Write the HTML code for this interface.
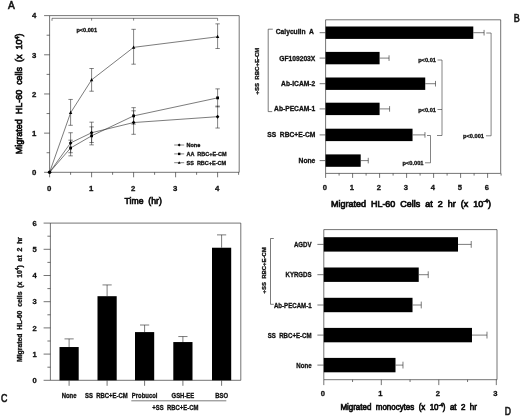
<!DOCTYPE html>
<html><head><meta charset="utf-8"><title>Figure</title>
<style>html,body{margin:0;padding:0;background:#fff;}svg{display:block;filter:blur(0.25px);font-family:"Liberation Sans",sans-serif;}</style>
</head><body>
<svg width="520" height="416" viewBox="0 0 520 416">
<rect x="0" y="0" width="520" height="416" fill="#fff"/>
<g id="panelA">
<polyline points="49.60,15.62 239.20,15.62 239.20,172.30 49.60,172.30 49.60,15.62" fill="none" stroke="#2a2a2a" stroke-width="0.65"/>
<line x1="44.10" y1="172.30" x2="49.60" y2="172.30" stroke="#2a2a2a" stroke-width="0.65"/>
<text x="34.20" y="175.10" font-size="7.8" font-weight="bold" text-anchor="middle" fill="#111" style="white-space:pre" stroke="#111" stroke-width="0.3">0</text>
<line x1="46.60" y1="152.72" x2="49.60" y2="152.72" stroke="#2a2a2a" stroke-width="0.65"/>
<line x1="44.10" y1="133.13" x2="49.60" y2="133.13" stroke="#2a2a2a" stroke-width="0.65"/>
<text x="34.20" y="135.93" font-size="7.8" font-weight="bold" text-anchor="middle" fill="#111" style="white-space:pre" stroke="#111" stroke-width="0.3">1</text>
<line x1="46.60" y1="113.55" x2="49.60" y2="113.55" stroke="#2a2a2a" stroke-width="0.65"/>
<line x1="44.10" y1="93.96" x2="49.60" y2="93.96" stroke="#2a2a2a" stroke-width="0.65"/>
<text x="34.20" y="96.76" font-size="7.8" font-weight="bold" text-anchor="middle" fill="#111" style="white-space:pre" stroke="#111" stroke-width="0.3">2</text>
<line x1="46.60" y1="74.38" x2="49.60" y2="74.38" stroke="#2a2a2a" stroke-width="0.65"/>
<line x1="44.10" y1="54.79" x2="49.60" y2="54.79" stroke="#2a2a2a" stroke-width="0.65"/>
<text x="34.20" y="57.59" font-size="7.8" font-weight="bold" text-anchor="middle" fill="#111" style="white-space:pre" stroke="#111" stroke-width="0.3">3</text>
<line x1="46.60" y1="35.21" x2="49.60" y2="35.21" stroke="#2a2a2a" stroke-width="0.65"/>
<line x1="44.10" y1="15.62" x2="49.60" y2="15.62" stroke="#2a2a2a" stroke-width="0.65"/>
<text x="34.20" y="18.42" font-size="7.8" font-weight="bold" text-anchor="middle" fill="#111" style="white-space:pre" stroke="#111" stroke-width="0.3">4</text>
<line x1="49.60" y1="172.30" x2="49.60" y2="177.30" stroke="#2a2a2a" stroke-width="0.65"/>
<text x="49.20" y="190.50" font-size="7.8" font-weight="bold" text-anchor="middle" fill="#111" style="white-space:pre" stroke="#111" stroke-width="0.3">0</text>
<line x1="70.60" y1="172.30" x2="70.60" y2="174.80" stroke="#2a2a2a" stroke-width="0.65"/>
<line x1="91.60" y1="172.30" x2="91.60" y2="177.30" stroke="#2a2a2a" stroke-width="0.65"/>
<text x="91.20" y="190.50" font-size="7.8" font-weight="bold" text-anchor="middle" fill="#111" style="white-space:pre" stroke="#111" stroke-width="0.3">1</text>
<line x1="112.60" y1="172.30" x2="112.60" y2="174.80" stroke="#2a2a2a" stroke-width="0.65"/>
<line x1="133.60" y1="172.30" x2="133.60" y2="177.30" stroke="#2a2a2a" stroke-width="0.65"/>
<text x="133.20" y="190.50" font-size="7.8" font-weight="bold" text-anchor="middle" fill="#111" style="white-space:pre" stroke="#111" stroke-width="0.3">2</text>
<line x1="154.60" y1="172.30" x2="154.60" y2="174.80" stroke="#2a2a2a" stroke-width="0.65"/>
<line x1="175.60" y1="172.30" x2="175.60" y2="177.30" stroke="#2a2a2a" stroke-width="0.65"/>
<text x="175.20" y="190.50" font-size="7.8" font-weight="bold" text-anchor="middle" fill="#111" style="white-space:pre" stroke="#111" stroke-width="0.3">3</text>
<line x1="196.60" y1="172.30" x2="196.60" y2="174.80" stroke="#2a2a2a" stroke-width="0.65"/>
<line x1="217.60" y1="172.30" x2="217.60" y2="177.30" stroke="#2a2a2a" stroke-width="0.65"/>
<text x="217.20" y="190.50" font-size="7.8" font-weight="bold" text-anchor="middle" fill="#111" style="white-space:pre" stroke="#111" stroke-width="0.3">4</text>
<line x1="238.60" y1="172.30" x2="238.60" y2="174.80" stroke="#2a2a2a" stroke-width="0.65"/>
<text x="124.50" y="204.20" font-size="9.3" font-weight="normal" text-anchor="start" fill="#111" style="white-space:pre" stroke="#111" stroke-width="0.72" textLength="37.3" lengthAdjust="spacingAndGlyphs">Time  (hr)</text>
<text x="22.00" y="154.20" font-size="9.2" font-weight="normal" text-anchor="start" fill="#111" style="white-space:pre" stroke="#111" stroke-width="0.72" textLength="120.7" lengthAdjust="spacingAndGlyphs" transform="rotate(-90 22.00 154.20)">Migrated  HL-60  cells  (x  10<tspan font-size="5.5" dy="-3.2">4</tspan><tspan dy="3.2">)</tspan></text>
<text x="8.10" y="9.10" font-size="11.3" font-weight="normal" text-anchor="start" fill="#111" style="white-space:pre" stroke="#111" stroke-width="0.6" textLength="6.8" lengthAdjust="spacingAndGlyphs">A</text>
<polyline points="52.00,20.80 52.00,18.30 217.60,18.30 217.60,20.80" fill="none" stroke="#2a2a2a" stroke-width="0.6"/>
<line x1="91.60" y1="18.30" x2="91.60" y2="20.60" stroke="#2a2a2a" stroke-width="0.58"/>
<line x1="133.60" y1="18.30" x2="133.60" y2="20.60" stroke="#2a2a2a" stroke-width="0.58"/>
<text x="76.40" y="32.00" font-size="5.6" font-weight="bold" text-anchor="start" fill="#111" style="white-space:pre" stroke="#111" stroke-width="0.3">p&lt;0.001</text>
<polyline points="49.60,172.30 70.60,112.76 91.60,79.86 133.60,47.35 217.60,36.77" fill="none" stroke="#2a2a2a" stroke-width="0.62"/>
<line x1="70.60" y1="125.30" x2="70.60" y2="99.44" stroke="#2a2a2a" stroke-width="0.58"/>
<line x1="68.40" y1="125.30" x2="72.80" y2="125.30" stroke="#2a2a2a" stroke-width="0.58"/>
<line x1="68.40" y1="99.44" x2="72.80" y2="99.44" stroke="#2a2a2a" stroke-width="0.58"/>
<line x1="91.60" y1="91.22" x2="91.60" y2="68.50" stroke="#2a2a2a" stroke-width="0.58"/>
<line x1="89.40" y1="91.22" x2="93.80" y2="91.22" stroke="#2a2a2a" stroke-width="0.58"/>
<line x1="89.40" y1="68.50" x2="93.80" y2="68.50" stroke="#2a2a2a" stroke-width="0.58"/>
<line x1="133.60" y1="64.19" x2="133.60" y2="29.33" stroke="#2a2a2a" stroke-width="0.58"/>
<line x1="131.40" y1="64.19" x2="135.80" y2="64.19" stroke="#2a2a2a" stroke-width="0.58"/>
<line x1="131.40" y1="29.33" x2="135.80" y2="29.33" stroke="#2a2a2a" stroke-width="0.58"/>
<line x1="217.60" y1="48.52" x2="217.60" y2="23.85" stroke="#2a2a2a" stroke-width="0.58"/>
<line x1="215.40" y1="48.52" x2="219.80" y2="48.52" stroke="#2a2a2a" stroke-width="0.58"/>
<line x1="215.40" y1="23.85" x2="219.80" y2="23.85" stroke="#2a2a2a" stroke-width="0.58"/>
<polyline points="49.60,172.30 70.60,148.01 91.60,135.87 133.60,115.90 217.60,97.88" fill="none" stroke="#2a2a2a" stroke-width="0.62"/>
<line x1="70.60" y1="155.85" x2="70.60" y2="140.18" stroke="#2a2a2a" stroke-width="0.58"/>
<line x1="68.40" y1="155.85" x2="72.80" y2="155.85" stroke="#2a2a2a" stroke-width="0.58"/>
<line x1="68.40" y1="140.18" x2="72.80" y2="140.18" stroke="#2a2a2a" stroke-width="0.58"/>
<line x1="91.60" y1="144.88" x2="91.60" y2="126.86" stroke="#2a2a2a" stroke-width="0.58"/>
<line x1="89.40" y1="144.88" x2="93.80" y2="144.88" stroke="#2a2a2a" stroke-width="0.58"/>
<line x1="89.40" y1="126.86" x2="93.80" y2="126.86" stroke="#2a2a2a" stroke-width="0.58"/>
<line x1="133.60" y1="124.12" x2="133.60" y2="107.67" stroke="#2a2a2a" stroke-width="0.58"/>
<line x1="131.40" y1="124.12" x2="135.80" y2="124.12" stroke="#2a2a2a" stroke-width="0.58"/>
<line x1="131.40" y1="107.67" x2="135.80" y2="107.67" stroke="#2a2a2a" stroke-width="0.58"/>
<line x1="217.60" y1="106.89" x2="217.60" y2="88.87" stroke="#2a2a2a" stroke-width="0.58"/>
<line x1="215.40" y1="106.89" x2="219.80" y2="106.89" stroke="#2a2a2a" stroke-width="0.58"/>
<line x1="215.40" y1="88.87" x2="219.80" y2="88.87" stroke="#2a2a2a" stroke-width="0.58"/>
<polyline points="49.60,172.30 70.60,142.92 91.60,132.74 133.60,122.55 217.60,116.68" fill="none" stroke="#2a2a2a" stroke-width="0.62"/>
<line x1="70.60" y1="152.72" x2="70.60" y2="132.74" stroke="#2a2a2a" stroke-width="0.58"/>
<line x1="68.40" y1="152.72" x2="72.80" y2="152.72" stroke="#2a2a2a" stroke-width="0.58"/>
<line x1="68.40" y1="132.74" x2="72.80" y2="132.74" stroke="#2a2a2a" stroke-width="0.58"/>
<line x1="91.60" y1="142.53" x2="91.60" y2="122.16" stroke="#2a2a2a" stroke-width="0.58"/>
<line x1="89.40" y1="142.53" x2="93.80" y2="142.53" stroke="#2a2a2a" stroke-width="0.58"/>
<line x1="89.40" y1="122.16" x2="93.80" y2="122.16" stroke="#2a2a2a" stroke-width="0.58"/>
<line x1="133.60" y1="134.31" x2="133.60" y2="110.80" stroke="#2a2a2a" stroke-width="0.58"/>
<line x1="131.40" y1="134.31" x2="135.80" y2="134.31" stroke="#2a2a2a" stroke-width="0.58"/>
<line x1="131.40" y1="110.80" x2="135.80" y2="110.80" stroke="#2a2a2a" stroke-width="0.58"/>
<line x1="217.60" y1="128.04" x2="217.60" y2="106.10" stroke="#2a2a2a" stroke-width="0.58"/>
<line x1="215.40" y1="128.04" x2="219.80" y2="128.04" stroke="#2a2a2a" stroke-width="0.58"/>
<line x1="215.40" y1="106.10" x2="219.80" y2="106.10" stroke="#2a2a2a" stroke-width="0.58"/>
<polygon points="70.60,110.86 72.30,114.06 68.90,114.06" fill="#000"/>
<polygon points="91.60,77.96 93.30,81.16 89.90,81.16" fill="#000"/>
<polygon points="133.60,45.45 135.30,48.65 131.90,48.65" fill="#000"/>
<polygon points="217.60,34.87 219.30,38.07 215.90,38.07" fill="#000"/>
<rect x="69.20" y="146.61" width="2.80" height="2.80" fill="#000"/>
<rect x="90.20" y="134.47" width="2.80" height="2.80" fill="#000"/>
<rect x="132.20" y="114.50" width="2.80" height="2.80" fill="#000"/>
<rect x="216.20" y="96.48" width="2.80" height="2.80" fill="#000"/>
<polygon points="70.60,140.92 72.40,142.92 70.60,144.92 68.80,142.92" fill="#000"/>
<polygon points="91.60,130.74 93.40,132.74 91.60,134.74 89.80,132.74" fill="#000"/>
<polygon points="133.60,120.55 135.40,122.55 133.60,124.55 131.80,122.55" fill="#000"/>
<polygon points="217.60,114.68 219.40,116.68 217.60,118.68 215.80,116.68" fill="#000"/>
<circle cx="49.6" cy="172.3" r="1.8" fill="#000"/>
<line x1="174.20" y1="145.00" x2="184.20" y2="145.00" stroke="#2a2a2a" stroke-width="0.58"/>
<polygon points="179.2,143.4 180.7,145.0 179.2,146.6 177.7,145.0" fill="#000"/>
<text x="186.50" y="147.00" font-size="5.5" font-weight="bold" text-anchor="start" fill="#111" style="white-space:pre" stroke="#111" stroke-width="0.3">None</text>
<line x1="174.20" y1="153.90" x2="184.20" y2="153.90" stroke="#2a2a2a" stroke-width="0.58"/>
<rect x="178.00" y="152.70" width="2.40" height="2.40" fill="#000"/>
<text x="186.50" y="155.90" font-size="5.5" font-weight="bold" text-anchor="start" fill="#111" style="white-space:pre" stroke="#111" stroke-width="0.3">AA  RBC+E-CM</text>
<line x1="174.20" y1="162.70" x2="184.20" y2="162.70" stroke="#2a2a2a" stroke-width="0.58"/>
<polygon points="179.2,161.2 180.6,163.79999999999998 177.8,163.79999999999998" fill="#000"/>
<text x="186.50" y="164.70" font-size="5.5" font-weight="bold" text-anchor="start" fill="#111" style="white-space:pre" stroke="#111" stroke-width="0.3">SS  RBC+E-CM</text>
</g>
<text x="258.70" y="94.50" font-size="5.4" font-weight="bold" text-anchor="start" fill="#111" style="white-space:pre" stroke="#111" stroke-width="0.3" textLength="46.8" lengthAdjust="spacingAndGlyphs" transform="rotate(-90 258.70 94.50)">+SS  RBC+E-CM</text>
<g id="panelB">
<polyline points="325.60,19.80 500.70,19.80 500.70,173.40 325.60,173.40 325.60,19.80" fill="none" stroke="#2a2a2a" stroke-width="0.65"/>
<rect x="325.60" y="26.50" width="147.69" height="12.40" fill="#000"/>
<line x1="473.29" y1="32.70" x2="484.09" y2="32.70" stroke="#2a2a2a" stroke-width="0.62"/>
<line x1="484.09" y1="29.90" x2="484.09" y2="35.50" stroke="#2a2a2a" stroke-width="0.62"/>
<line x1="319.60" y1="32.70" x2="325.60" y2="32.70" stroke="#2a2a2a" stroke-width="0.65"/>
<text x="313.80" y="33.50" font-size="6.7" font-weight="bold" text-anchor="end" fill="#111" style="white-space:pre" stroke="#111" stroke-width="0.3">Calyculin  A</text>
<rect x="325.60" y="51.90" width="54.00" height="12.40" fill="#000"/>
<line x1="379.60" y1="58.10" x2="389.05" y2="58.10" stroke="#2a2a2a" stroke-width="0.62"/>
<line x1="389.05" y1="55.30" x2="389.05" y2="60.90" stroke="#2a2a2a" stroke-width="0.62"/>
<line x1="319.60" y1="58.10" x2="325.60" y2="58.10" stroke="#2a2a2a" stroke-width="0.65"/>
<text x="315.30" y="60.50" font-size="6.7" font-weight="bold" text-anchor="end" fill="#111" style="white-space:pre" stroke="#111" stroke-width="0.3">GF109203X</text>
<rect x="325.60" y="77.50" width="99.63" height="12.40" fill="#000"/>
<line x1="425.23" y1="83.70" x2="435.49" y2="83.70" stroke="#2a2a2a" stroke-width="0.62"/>
<line x1="435.49" y1="80.90" x2="435.49" y2="86.50" stroke="#2a2a2a" stroke-width="0.62"/>
<line x1="319.60" y1="83.70" x2="325.60" y2="83.70" stroke="#2a2a2a" stroke-width="0.65"/>
<text x="315.30" y="86.10" font-size="6.7" font-weight="bold" text-anchor="end" fill="#111" style="white-space:pre" stroke="#111" stroke-width="0.3">Ab-ICAM-2</text>
<rect x="325.60" y="102.70" width="54.00" height="12.40" fill="#000"/>
<line x1="379.60" y1="108.90" x2="389.59" y2="108.90" stroke="#2a2a2a" stroke-width="0.62"/>
<line x1="389.59" y1="106.10" x2="389.59" y2="111.70" stroke="#2a2a2a" stroke-width="0.62"/>
<line x1="319.60" y1="108.90" x2="325.60" y2="108.90" stroke="#2a2a2a" stroke-width="0.65"/>
<text x="315.30" y="111.30" font-size="6.7" font-weight="bold" text-anchor="end" fill="#111" style="white-space:pre" stroke="#111" stroke-width="0.3">Ab-PECAM-1</text>
<rect x="325.60" y="128.70" width="86.94" height="12.40" fill="#000"/>
<line x1="412.54" y1="134.90" x2="424.96" y2="134.90" stroke="#2a2a2a" stroke-width="0.62"/>
<line x1="424.96" y1="132.10" x2="424.96" y2="137.70" stroke="#2a2a2a" stroke-width="0.62"/>
<line x1="319.60" y1="134.90" x2="325.60" y2="134.90" stroke="#2a2a2a" stroke-width="0.65"/>
<text x="315.30" y="137.30" font-size="6.7" font-weight="bold" text-anchor="end" fill="#111" style="white-space:pre" stroke="#111" stroke-width="0.3">SS  RBC+E-CM</text>
<rect x="325.60" y="154.40" width="35.10" height="12.40" fill="#000"/>
<line x1="360.70" y1="160.60" x2="368.26" y2="160.60" stroke="#2a2a2a" stroke-width="0.62"/>
<line x1="368.26" y1="157.80" x2="368.26" y2="163.40" stroke="#2a2a2a" stroke-width="0.62"/>
<line x1="319.60" y1="160.60" x2="325.60" y2="160.60" stroke="#2a2a2a" stroke-width="0.65"/>
<text x="315.30" y="163.00" font-size="6.7" font-weight="bold" text-anchor="end" fill="#111" style="white-space:pre" stroke="#111" stroke-width="0.3">None</text>
<line x1="325.60" y1="173.40" x2="325.60" y2="177.90" stroke="#2a2a2a" stroke-width="0.65"/>
<text x="324.80" y="190.40" font-size="7.6" font-weight="bold" text-anchor="middle" fill="#111" style="white-space:pre" stroke="#111" stroke-width="0.3">0</text>
<line x1="339.10" y1="173.40" x2="339.10" y2="175.60" stroke="#2a2a2a" stroke-width="0.65"/>
<line x1="352.60" y1="173.40" x2="352.60" y2="177.90" stroke="#2a2a2a" stroke-width="0.65"/>
<text x="351.80" y="190.40" font-size="7.6" font-weight="bold" text-anchor="middle" fill="#111" style="white-space:pre" stroke="#111" stroke-width="0.3">1</text>
<line x1="366.10" y1="173.40" x2="366.10" y2="175.60" stroke="#2a2a2a" stroke-width="0.65"/>
<line x1="379.60" y1="173.40" x2="379.60" y2="177.90" stroke="#2a2a2a" stroke-width="0.65"/>
<text x="378.80" y="190.40" font-size="7.6" font-weight="bold" text-anchor="middle" fill="#111" style="white-space:pre" stroke="#111" stroke-width="0.3">2</text>
<line x1="393.10" y1="173.40" x2="393.10" y2="175.60" stroke="#2a2a2a" stroke-width="0.65"/>
<line x1="406.60" y1="173.40" x2="406.60" y2="177.90" stroke="#2a2a2a" stroke-width="0.65"/>
<text x="405.80" y="190.40" font-size="7.6" font-weight="bold" text-anchor="middle" fill="#111" style="white-space:pre" stroke="#111" stroke-width="0.3">3</text>
<line x1="420.10" y1="173.40" x2="420.10" y2="175.60" stroke="#2a2a2a" stroke-width="0.65"/>
<line x1="433.60" y1="173.40" x2="433.60" y2="177.90" stroke="#2a2a2a" stroke-width="0.65"/>
<text x="432.80" y="190.40" font-size="7.6" font-weight="bold" text-anchor="middle" fill="#111" style="white-space:pre" stroke="#111" stroke-width="0.3">4</text>
<line x1="447.10" y1="173.40" x2="447.10" y2="175.60" stroke="#2a2a2a" stroke-width="0.65"/>
<line x1="460.60" y1="173.40" x2="460.60" y2="177.90" stroke="#2a2a2a" stroke-width="0.65"/>
<text x="459.80" y="190.40" font-size="7.6" font-weight="bold" text-anchor="middle" fill="#111" style="white-space:pre" stroke="#111" stroke-width="0.3">5</text>
<line x1="474.10" y1="173.40" x2="474.10" y2="175.60" stroke="#2a2a2a" stroke-width="0.65"/>
<line x1="487.60" y1="173.40" x2="487.60" y2="177.90" stroke="#2a2a2a" stroke-width="0.65"/>
<text x="486.80" y="190.40" font-size="7.6" font-weight="bold" text-anchor="middle" fill="#111" style="white-space:pre" stroke="#111" stroke-width="0.3">6</text>
<line x1="501.10" y1="173.40" x2="501.10" y2="175.60" stroke="#2a2a2a" stroke-width="0.65"/>
<text x="331.00" y="206.60" font-size="9" font-weight="normal" text-anchor="start" fill="#111" style="white-space:pre" stroke="#111" stroke-width="0.72" textLength="160" lengthAdjust="spacingAndGlyphs">Migrated  HL-60  Cells  at  2  hr  (x  10<tspan font-size="5.5" dy="-3.2">-4</tspan><tspan dy="3.2">)</tspan></text>
<text x="513.70" y="21.60" font-size="10.8" font-weight="normal" text-anchor="start" fill="#111" style="white-space:pre" stroke="#111" stroke-width="0.6" textLength="6.0" lengthAdjust="spacingAndGlyphs">B</text>
<polyline points="272.80,29.20 268.20,29.20 268.20,111.60 272.20,111.60" fill="none" stroke="#2a2a2a" stroke-width="0.62"/>
<polyline points="437.50,60.00 442.00,60.00 442.00,135.50 437.00,135.50" fill="none" stroke="#2a2a2a" stroke-width="0.58"/>
<line x1="437.50" y1="109.50" x2="442.00" y2="109.50" stroke="#2a2a2a" stroke-width="0.58"/>
<text x="436.00" y="62.00" font-size="5.7" font-weight="bold" text-anchor="end" fill="#111" style="white-space:pre" stroke="#111" stroke-width="0.3">p&lt;0.01</text>
<text x="436.00" y="111.50" font-size="5.7" font-weight="bold" text-anchor="end" fill="#111" style="white-space:pre" stroke="#111" stroke-width="0.3">p&lt;0.01</text>
<polyline points="427.00,135.50 430.50,135.50 430.50,162.80 425.00,162.80" fill="none" stroke="#2a2a2a" stroke-width="0.58"/>
<text x="423.50" y="164.80" font-size="5.7" font-weight="bold" text-anchor="end" fill="#111" style="white-space:pre" stroke="#111" stroke-width="0.3">p&lt;0.001</text>
<polyline points="486.30,33.00 491.10,33.00 491.10,135.80 486.00,135.80" fill="none" stroke="#2a2a2a" stroke-width="0.58"/>
<text x="484.00" y="137.60" font-size="5.7" font-weight="bold" text-anchor="end" fill="#111" style="white-space:pre" stroke="#111" stroke-width="0.3">p&lt;0.001</text>
</g>
<g id="panelC">
<polyline points="50.40,223.10 240.80,223.10 240.80,380.30 50.40,380.30 50.40,223.10" fill="none" stroke="#2a2a2a" stroke-width="0.65"/>
<line x1="43.60" y1="380.30" x2="50.40" y2="380.30" stroke="#2a2a2a" stroke-width="0.65"/>
<text x="34.60" y="383.00" font-size="7.6" font-weight="bold" text-anchor="middle" fill="#111" style="white-space:pre" stroke="#111" stroke-width="0.3">0</text>
<line x1="47.40" y1="367.20" x2="50.40" y2="367.20" stroke="#2a2a2a" stroke-width="0.65"/>
<line x1="43.60" y1="354.10" x2="50.40" y2="354.10" stroke="#2a2a2a" stroke-width="0.65"/>
<text x="34.60" y="356.80" font-size="7.6" font-weight="bold" text-anchor="middle" fill="#111" style="white-space:pre" stroke="#111" stroke-width="0.3">1</text>
<line x1="47.40" y1="341.00" x2="50.40" y2="341.00" stroke="#2a2a2a" stroke-width="0.65"/>
<line x1="43.60" y1="327.90" x2="50.40" y2="327.90" stroke="#2a2a2a" stroke-width="0.65"/>
<text x="34.60" y="330.60" font-size="7.6" font-weight="bold" text-anchor="middle" fill="#111" style="white-space:pre" stroke="#111" stroke-width="0.3">2</text>
<line x1="47.40" y1="314.80" x2="50.40" y2="314.80" stroke="#2a2a2a" stroke-width="0.65"/>
<line x1="43.60" y1="301.70" x2="50.40" y2="301.70" stroke="#2a2a2a" stroke-width="0.65"/>
<text x="34.60" y="304.40" font-size="7.6" font-weight="bold" text-anchor="middle" fill="#111" style="white-space:pre" stroke="#111" stroke-width="0.3">3</text>
<line x1="47.40" y1="288.60" x2="50.40" y2="288.60" stroke="#2a2a2a" stroke-width="0.65"/>
<line x1="43.60" y1="275.50" x2="50.40" y2="275.50" stroke="#2a2a2a" stroke-width="0.65"/>
<text x="34.60" y="278.20" font-size="7.6" font-weight="bold" text-anchor="middle" fill="#111" style="white-space:pre" stroke="#111" stroke-width="0.3">4</text>
<line x1="47.40" y1="262.40" x2="50.40" y2="262.40" stroke="#2a2a2a" stroke-width="0.65"/>
<line x1="43.60" y1="249.30" x2="50.40" y2="249.30" stroke="#2a2a2a" stroke-width="0.65"/>
<text x="34.60" y="252.00" font-size="7.6" font-weight="bold" text-anchor="middle" fill="#111" style="white-space:pre" stroke="#111" stroke-width="0.3">5</text>
<line x1="47.40" y1="236.20" x2="50.40" y2="236.20" stroke="#2a2a2a" stroke-width="0.65"/>
<line x1="43.60" y1="223.10" x2="50.40" y2="223.10" stroke="#2a2a2a" stroke-width="0.65"/>
<text x="34.60" y="225.80" font-size="7.6" font-weight="bold" text-anchor="middle" fill="#111" style="white-space:pre" stroke="#111" stroke-width="0.3">6</text>
<rect x="59.50" y="347.03" width="19.20" height="33.27" fill="#000"/>
<line x1="69.10" y1="347.03" x2="69.10" y2="338.90" stroke="#2a2a2a" stroke-width="0.62"/>
<line x1="64.50" y1="338.90" x2="73.70" y2="338.90" stroke="#2a2a2a" stroke-width="0.62"/>
<line x1="69.10" y1="380.30" x2="69.10" y2="385.80" stroke="#2a2a2a" stroke-width="0.65"/>
<text transform="translate(69.10 397.60) scale(0.9 1)" font-size="6.6" font-weight="bold" text-anchor="middle" fill="#111" style="white-space:pre" stroke="#111" stroke-width="0.3">None</text>
<rect x="97.50" y="296.20" width="19.20" height="84.10" fill="#000"/>
<line x1="107.10" y1="296.20" x2="107.10" y2="284.93" stroke="#2a2a2a" stroke-width="0.62"/>
<line x1="102.50" y1="284.93" x2="111.70" y2="284.93" stroke="#2a2a2a" stroke-width="0.62"/>
<line x1="107.10" y1="380.30" x2="107.10" y2="385.80" stroke="#2a2a2a" stroke-width="0.65"/>
<text transform="translate(106.30 397.60) scale(0.9 1)" font-size="6.6" font-weight="bold" text-anchor="middle" fill="#111" style="white-space:pre" stroke="#111" stroke-width="0.3">SS  RBC+E-CM</text>
<rect x="135.00" y="332.09" width="19.20" height="48.21" fill="#000"/>
<line x1="144.60" y1="332.09" x2="144.60" y2="325.02" stroke="#2a2a2a" stroke-width="0.62"/>
<line x1="140.00" y1="325.02" x2="149.20" y2="325.02" stroke="#2a2a2a" stroke-width="0.62"/>
<line x1="144.60" y1="380.30" x2="144.60" y2="385.80" stroke="#2a2a2a" stroke-width="0.65"/>
<text transform="translate(144.60 397.60) scale(0.9 1)" font-size="6.6" font-weight="bold" text-anchor="middle" fill="#111" style="white-space:pre" stroke="#111" stroke-width="0.3">Probucol</text>
<rect x="173.30" y="342.05" width="19.20" height="38.25" fill="#000"/>
<line x1="182.90" y1="342.05" x2="182.90" y2="336.55" stroke="#2a2a2a" stroke-width="0.62"/>
<line x1="178.30" y1="336.55" x2="187.50" y2="336.55" stroke="#2a2a2a" stroke-width="0.62"/>
<line x1="182.90" y1="380.30" x2="182.90" y2="385.80" stroke="#2a2a2a" stroke-width="0.65"/>
<text transform="translate(182.90 397.60) scale(0.9 1)" font-size="6.6" font-weight="bold" text-anchor="middle" fill="#111" style="white-space:pre" stroke="#111" stroke-width="0.3">GSH-EE</text>
<rect x="212.00" y="247.73" width="19.20" height="132.57" fill="#000"/>
<line x1="221.60" y1="247.73" x2="221.60" y2="234.89" stroke="#2a2a2a" stroke-width="0.62"/>
<line x1="217.00" y1="234.89" x2="226.20" y2="234.89" stroke="#2a2a2a" stroke-width="0.62"/>
<line x1="221.60" y1="380.30" x2="221.60" y2="385.80" stroke="#2a2a2a" stroke-width="0.65"/>
<text transform="translate(221.60 397.60) scale(0.9 1)" font-size="6.6" font-weight="bold" text-anchor="middle" fill="#111" style="white-space:pre" stroke="#111" stroke-width="0.3">BSO</text>
<line x1="131.30" y1="400.80" x2="226.30" y2="400.80" stroke="#2a2a2a" stroke-width="0.62"/>
<text transform="translate(175.40 410.20) scale(0.9 1)" font-size="6.6" font-weight="bold" text-anchor="middle" fill="#111" style="white-space:pre" stroke="#111" stroke-width="0.3">+SS  RBC+E-CM</text>
<text x="21.60" y="362.00" font-size="6.4" font-weight="bold" text-anchor="start" fill="#111" style="white-space:pre" stroke="#111" stroke-width="0.3" textLength="125" lengthAdjust="spacingAndGlyphs" transform="rotate(-90 21.60 362.00)">Migrated  HL-60  cells  (x  10<tspan font-size="4.5" dy="-2.2">4</tspan><tspan dy="2.2">)  at  2  hr</tspan></text>
<text x="0.90" y="401.60" font-size="11.3" font-weight="normal" text-anchor="start" fill="#111" style="white-space:pre" stroke="#111" stroke-width="0.6" textLength="6.4" lengthAdjust="spacingAndGlyphs">C</text>
</g>
<g id="panelD">
<polyline points="323.80,229.60 497.00,229.60 497.00,379.70 323.80,379.70 323.80,229.60" fill="none" stroke="#2a2a2a" stroke-width="0.65"/>
<rect x="323.80" y="237.20" width="134.21" height="14.40" fill="#000"/>
<line x1="458.00" y1="244.40" x2="471.23" y2="244.40" stroke="#2a2a2a" stroke-width="0.62"/>
<line x1="471.23" y1="241.00" x2="471.23" y2="247.80" stroke="#2a2a2a" stroke-width="0.62"/>
<line x1="317.40" y1="244.40" x2="323.80" y2="244.40" stroke="#2a2a2a" stroke-width="0.65"/>
<text transform="translate(311.60 246.90) scale(0.9 1)" font-size="6.8" font-weight="bold" text-anchor="end" fill="#111" style="white-space:pre" stroke="#111" stroke-width="0.3">AGDV</text>
<rect x="323.80" y="267.50" width="94.93" height="14.40" fill="#000"/>
<line x1="418.73" y1="274.70" x2="428.22" y2="274.70" stroke="#2a2a2a" stroke-width="0.62"/>
<line x1="428.22" y1="271.30" x2="428.22" y2="278.10" stroke="#2a2a2a" stroke-width="0.62"/>
<line x1="317.40" y1="274.70" x2="323.80" y2="274.70" stroke="#2a2a2a" stroke-width="0.65"/>
<text transform="translate(311.60 277.20) scale(0.9 1)" font-size="6.8" font-weight="bold" text-anchor="end" fill="#111" style="white-space:pre" stroke="#111" stroke-width="0.3">KYRGDS</text>
<rect x="323.80" y="297.80" width="88.72" height="14.40" fill="#000"/>
<line x1="412.52" y1="305.00" x2="421.26" y2="305.00" stroke="#2a2a2a" stroke-width="0.62"/>
<line x1="421.26" y1="301.60" x2="421.26" y2="308.40" stroke="#2a2a2a" stroke-width="0.62"/>
<line x1="317.40" y1="305.00" x2="323.80" y2="305.00" stroke="#2a2a2a" stroke-width="0.65"/>
<text transform="translate(311.60 307.50) scale(0.9 1)" font-size="6.8" font-weight="bold" text-anchor="end" fill="#111" style="white-space:pre" stroke="#111" stroke-width="0.3">Ab-PECAM-1</text>
<rect x="323.80" y="327.90" width="148.18" height="14.40" fill="#000"/>
<line x1="471.98" y1="335.10" x2="486.99" y2="335.10" stroke="#2a2a2a" stroke-width="0.62"/>
<line x1="486.99" y1="331.70" x2="486.99" y2="338.50" stroke="#2a2a2a" stroke-width="0.62"/>
<line x1="317.40" y1="335.10" x2="323.80" y2="335.10" stroke="#2a2a2a" stroke-width="0.65"/>
<text transform="translate(311.60 337.60) scale(0.9 1)" font-size="6.8" font-weight="bold" text-anchor="end" fill="#111" style="white-space:pre" stroke="#111" stroke-width="0.3">SS  RBC+E-CM</text>
<rect x="323.80" y="357.90" width="71.70" height="14.40" fill="#000"/>
<line x1="395.50" y1="365.10" x2="402.98" y2="365.10" stroke="#2a2a2a" stroke-width="0.62"/>
<line x1="402.98" y1="361.70" x2="402.98" y2="368.50" stroke="#2a2a2a" stroke-width="0.62"/>
<line x1="317.40" y1="365.10" x2="323.80" y2="365.10" stroke="#2a2a2a" stroke-width="0.65"/>
<text transform="translate(311.60 367.60) scale(0.9 1)" font-size="6.8" font-weight="bold" text-anchor="end" fill="#111" style="white-space:pre" stroke="#111" stroke-width="0.3">None</text>
<line x1="323.80" y1="379.70" x2="323.80" y2="385.10" stroke="#2a2a2a" stroke-width="0.65"/>
<text x="322.90" y="396.00" font-size="7.6" font-weight="bold" text-anchor="middle" fill="#111" style="white-space:pre" stroke="#111" stroke-width="0.3">0</text>
<line x1="352.55" y1="379.70" x2="352.55" y2="382.00" stroke="#2a2a2a" stroke-width="0.65"/>
<line x1="381.30" y1="379.70" x2="381.30" y2="385.10" stroke="#2a2a2a" stroke-width="0.65"/>
<text x="380.40" y="396.00" font-size="7.6" font-weight="bold" text-anchor="middle" fill="#111" style="white-space:pre" stroke="#111" stroke-width="0.3">1</text>
<line x1="410.05" y1="379.70" x2="410.05" y2="382.00" stroke="#2a2a2a" stroke-width="0.65"/>
<line x1="438.80" y1="379.70" x2="438.80" y2="385.10" stroke="#2a2a2a" stroke-width="0.65"/>
<text x="437.90" y="396.00" font-size="7.6" font-weight="bold" text-anchor="middle" fill="#111" style="white-space:pre" stroke="#111" stroke-width="0.3">2</text>
<line x1="467.55" y1="379.70" x2="467.55" y2="382.00" stroke="#2a2a2a" stroke-width="0.65"/>
<line x1="496.30" y1="379.70" x2="496.30" y2="385.10" stroke="#2a2a2a" stroke-width="0.65"/>
<text x="495.40" y="396.00" font-size="7.6" font-weight="bold" text-anchor="middle" fill="#111" style="white-space:pre" stroke="#111" stroke-width="0.3">3</text>
<text x="340.40" y="409.70" font-size="9" font-weight="normal" text-anchor="start" fill="#111" style="white-space:pre" stroke="#111" stroke-width="0.72" textLength="136.5" lengthAdjust="spacingAndGlyphs">Migrated  monocytes  (x  10<tspan font-size="5.5" dy="-3.2">-4</tspan><tspan dy="3.2">)  at  2  hr</tspan></text>
<text x="504.70" y="415.00" font-size="11" font-weight="normal" text-anchor="start" fill="#111" style="white-space:pre" stroke="#111" stroke-width="0.6" textLength="6.2" lengthAdjust="spacingAndGlyphs">D</text>
<polyline points="273.80,238.50 270.50,238.50 270.50,304.30 273.80,304.30" fill="none" stroke="#2a2a2a" stroke-width="0.62"/>
<text x="265.90" y="293.40" font-size="5.4" font-weight="bold" text-anchor="start" fill="#111" style="white-space:pre" stroke="#111" stroke-width="0.3" textLength="46" lengthAdjust="spacingAndGlyphs" transform="rotate(-90 265.90 293.40)">+SS  RBC+E-CM</text>
</g>
</svg></body></html>
